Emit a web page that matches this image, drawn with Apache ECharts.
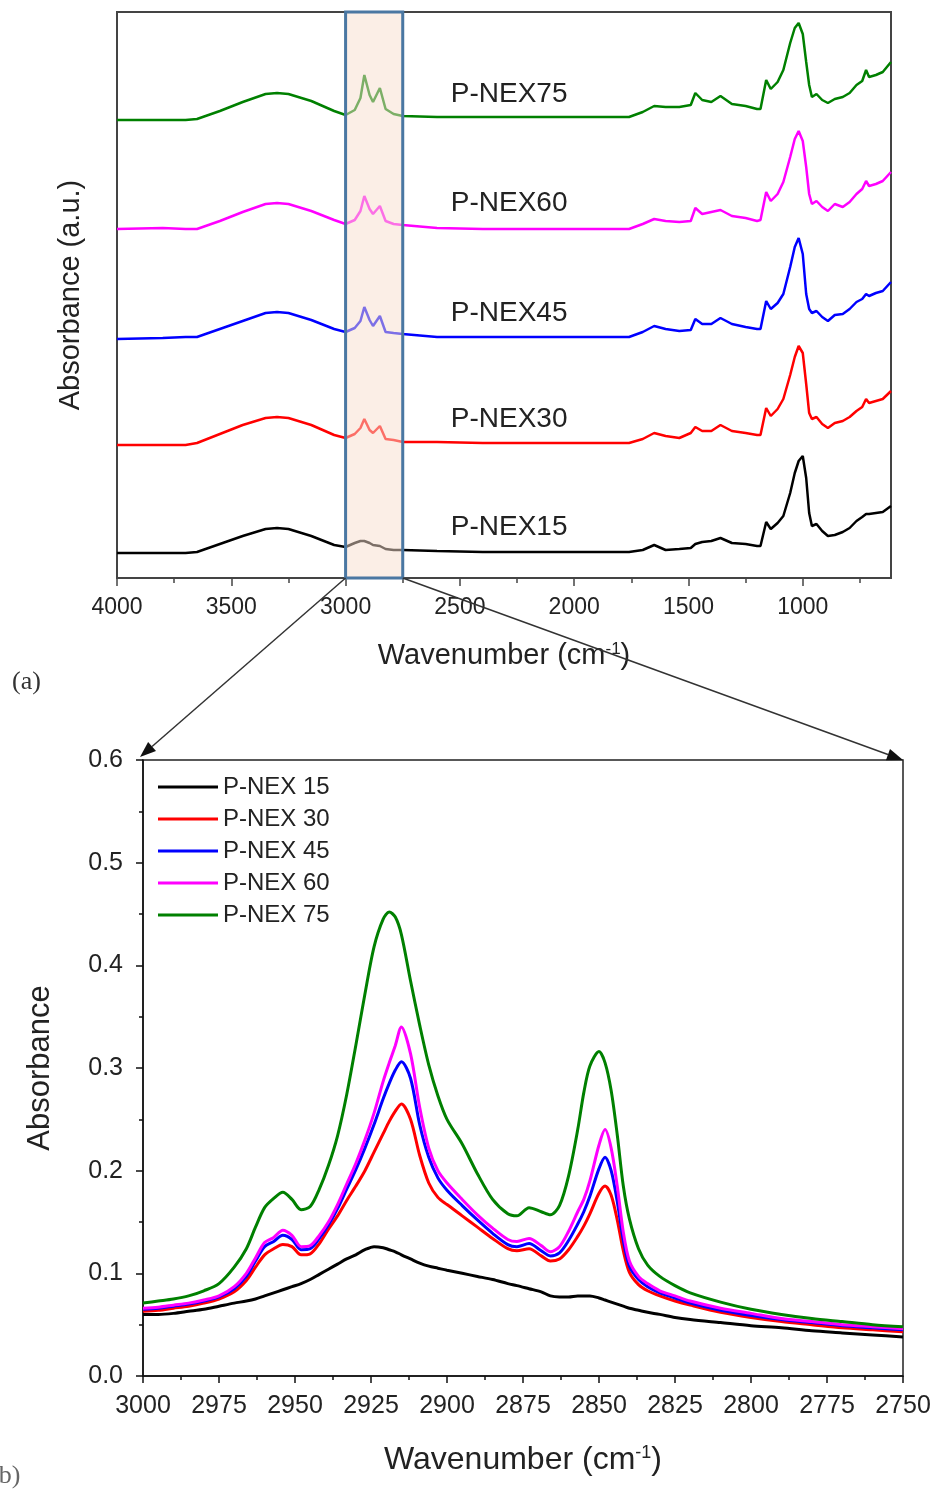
<!DOCTYPE html>
<html>
<head>
<meta charset="utf-8">
<script src="https://cdn.jsdelivr.net/npm/echarts@6.0.0/dist/echarts.min.js"></script>
<style>
html, body { margin: 0; padding: 0; background: #fff; }
#chart { width: 940px; height: 1497px; }
</style>
</head>
<body>
<div id="chart"></div>
<script>
// sample names / colours (same order for both panels)
var NAMES = ['P-NEX15', 'P-NEX30', 'P-NEX45', 'P-NEX60', 'P-NEX75'];
var LEGEND_NAMES = ['P-NEX 15', 'P-NEX 30', 'P-NEX 45', 'P-NEX 60', 'P-NEX 75'];
var COLORS = ['#000000', '#ff0000', '#0000ff', '#ff00ff', '#008000'];

// (a) full spectra, stacked with a vertical offset (a.u.)
var TOP_MAX = 566;
var TOP_OFFSET = [25, 133, 239, 349, 458];
var TOP_WN = [4000, 3800, 3700, 3650, 3550, 3450, 3350, 3300, 3250, 3150, 3050, 3000, 2960, 2935, 2918, 2895,
  2880, 2850, 2825, 2790, 2750, 2600, 2400, 2000, 1760, 1700, 1650, 1600, 1540, 1490, 1470, 1440, 1400, 1360,
  1310, 1250, 1200, 1185, 1160, 1140, 1110, 1085, 1055, 1035, 1018, 1000, 985, 972, 960, 940, 915, 890, 860,
  825, 795, 765, 740, 723, 710, 680, 650, 614];
var TOP_15 = [0,0,0,1,9,17,24,25,24,17,8,6,10,12,12,10,8,7,4,3,3,2,1,1,1,3,8,3,4,5,9,11,12,15,10,9,7,7,31,24,
  30,37,60,80,92,97,75,40,27,29,22,17,18,21,25,32,36,39,39,40,41,47];
var TOP_30 = [0,0,0,2,11,20,27,28,27,20,10,7,11,17,26,15,12,19,6,5,3,3,2,2,2,6,12,9,7,12,18,14,14,20,14,12,10,
  10,37,29,36,46,70,88,99,92,61,32,26,28,21,17,22,24,28,34,38,46,42,44,46,54];
var TOP_45 = [0,1,2,2,10,18,26,27,26,19,10,7,11,18,32,19,13,23,7,6,5,2,2,2,2,7,13,10,8,9,20,15,15,21,15,12,10,
  10,38,30,36,45,72,92,101,85,45,30,26,28,22,18,24,25,30,37,40,45,43,46,48,57];
var TOP_60 = [0,1,0,0,8,17,25,26,25,18,9,5,9,18,33,20,15,23,8,5,4,1,0,0,0,5,10,8,7,8,21,15,17,19,13,11,8,9,37,
  28,35,47,72,90,98,88,62,35,25,28,22,18,25,22,27,35,40,48,43,45,48,57];
var TOP_75 = [0,0,0,1,9,18,26,27,26,19,9,5,10,22,45,25,18,32,11,6,4,3,3,3,3,8,14,13,13,15,27,20,18,24,16,14,11,
  11,40,31,38,50,77,92,97,86,58,35,23,26,20,17,21,23,27,35,39,50,43,45,48,58];
var TOP_LABELS = [1000, 1500, 2000, 2500, 3000, 3500, 4000];
var TOP_MINOR = [750, 1250, 1750, 2250, 2750, 3250, 3750];
var ZOOM_RANGE = [2750, 3000];

// (b) C-H stretching region
var ZOOM_WN = [3000, 2995, 2990, 2985, 2980, 2975, 2970, 2966, 2963, 2960, 2957, 2954, 2951, 2948, 2945, 2942,
  2939, 2936, 2933, 2930, 2927, 2924, 2921, 2919, 2917, 2915, 2912, 2909, 2906, 2903, 2900, 2895, 2890, 2885,
  2880, 2877, 2873, 2869, 2866, 2863, 2860, 2857, 2855, 2853, 2850, 2848, 2846, 2844, 2842, 2840, 2837, 2834,
  2830, 2825, 2820, 2810, 2800, 2790, 2780, 2770, 2760, 2750];
var ZOOM_15 = [.060,.060,.061,.063,.065,.068,.071,.073,.075,.078, .081,.084,.087,.090,.094,.099,.104,.109,.114,.118,
  .123,.126,.125,.123,.121,.118,.114,.110,.107,.105, .103,.100,.097,.094,.090,.088,.085,.082,.078,.077,
  .077,.078,.078,.078,.076,.074,.072,.070,.068,.066, .064,.062,.060,.057,.055,.052,.049,.047,.044,.042, .040,.038];
var ZOOM_30 = [.063,.064,.066,.068,.071,.075,.082,.093,.106,.118, .124,.128,.126,.118,.119,.129,.143,.156,.171,.185,
  .200,.218,.236,.248,.258,.265,.250,.215,.188,.174, .167,.156,.145,.134,.124,.122,.124,.117,.112,.114,
  .123,.136,.146,.158,.178,.185,.176,.152,.122,.101, .089,.083,.078,.073,.069,.062,.057,.053,.050,.047, .045,.043];
var ZOOM_45 = [.065,.066,.068,.070,.073,.077,.085,.097,.112,.126, .131,.137,.133,.123,.124,.134,.147,.163,.182,.201,
  .222,.245,.270,.285,.298,.306,.290,.245,.213,.193, .181,.166,.152,.139,.128,.126,.129,.122,.117,.120,
  .132,.148,.160,.175,.202,.213,.200,.170,.132,.107, .094,.087,.081,.076,.071,.064,.059,.055,.052,.049, .047,.045];
var ZOOM_60 = [.066,.067,.069,.071,.074,.078,.087,.100,.115,.130, .135,.142,.137,.126,.127,.137,.150,.167,.187,.207,
  .230,.256,.287,.305,.322,.340,.314,.262,.222,.200, .188,.172,.157,.144,.133,.131,.134,.127,.121,.126,
  .141,.160,.172,.190,.225,.240,.222,.185,.140,.112, .097,.090,.083,.078,.073,.066,.061,.056,.053,.050, .048,.046];
var ZOOM_75 = [.071,.073,.075,.078,.083,.090,.106,.124,.145,.164, .173,.179,.172,.162,.165,.182,.205,.234,.274,.322,
  .372,.418,.445,.452,.447,.430,.385,.342,.303,.273, .250,.226,.197,.172,.158,.156,.164,.160,.157,.166,
  .195,.240,.276,.302,.316,.305,.278,.235,.185,.153, .124,.108,.097,.088,.081,.072,.065,.060,.056,.053, .050,.048];

var TOP_SPECTRA = [TOP_15, TOP_30, TOP_45, TOP_60, TOP_75];
var ZOOM_SPECTRA = [ZOOM_15, ZOOM_30, ZOOM_45, ZOOM_60, ZOOM_75];

var FONT = '"Liberation Sans", Arial, sans-serif';
var INK = '#222';
var chart = echarts.init(document.getElementById('chart'));

function pairs(xs, ys, off) {
  return xs.map(function (x, i) { return [x, ys[i] + (off || 0)]; });
}
function plain(v) { return String(v); }

var series = [];
// top panel curves + their name labels
TOP_SPECTRA.forEach(function (s, k) {
  series.push({
    name: NAMES[k], type: 'line', xAxisIndex: 0, yAxisIndex: 0,
    data: pairs(TOP_WN, s, TOP_OFFSET[k]),
    showSymbol: false, silent: true, animation: false,
    lineStyle: { color: COLORS[k], width: 2.5 }, itemStyle: { color: COLORS[k] },
    markPoint: {
      symbol: 'circle', symbolSize: 0, silent: true, animation: false,
      label: { show: true, position: 'right', distance: 0, formatter: NAMES[k],
               fontSize: 28, color: INK, fontFamily: FONT },
      data: [{ coord: [2540, TOP_OFFSET[k] + 26] }]
    }
  });
});
// highlighted window drawn over the curves
series.push({
  type: 'custom', xAxisIndex: 0, yAxisIndex: 0, z: 10, clip: false, silent: true, animation: false,
  data: [ZOOM_RANGE],
  renderItem: function (params, api) {
    var p1 = api.coord([api.value(1), TOP_MAX]);
    var p2 = api.coord([api.value(0), 0]);
    return {
      type: 'rect',
      shape: { x: p1[0], y: p1[1], width: p2[0] - p1[0], height: p2[1] - p1[1] },
      style: { fill: 'rgba(247,222,205,0.5)', stroke: '#4a77a2', lineWidth: 3 }
    };
  }
});
// bottom panel
ZOOM_SPECTRA.forEach(function (s, k) {
  series.push({
    name: LEGEND_NAMES[k], type: 'line', xAxisIndex: 2, yAxisIndex: 1,
    data: pairs(ZOOM_WN, s), smooth: 0.3,
    showSymbol: false, silent: true, animation: false,
    lineStyle: { color: COLORS[k], width: 3 }, itemStyle: { color: COLORS[k] }
  });
});

var option = {
  animation: false,
  textStyle: { fontFamily: FONT },
  grid: [
    { left: 117, top: 12, width: 774, height: 566, show: true, borderColor: '#444', borderWidth: 2 },
    { left: 143, top: 760, width: 760, height: 616, show: true, borderColor: '#222', borderWidth: 1.5 }
  ],
  xAxis: [
    {
      gridIndex: 0, type: 'value', position: 'bottom', inverse: true,
      min: TOP_WN[TOP_WN.length - 1], max: TOP_WN[0],
      axisLine: { lineStyle: { color: '#444', width: 2 } },
      axisTick: { customValues: TOP_LABELS, length: 8, lineStyle: { color: '#444', width: 1.5 } },
      axisLabel: { customValues: TOP_LABELS, fontSize: 23, color: INK, margin: 18, formatter: plain },
      splitLine: { show: false },
      name: 'Wavenumber (cm{s|-1})', nameLocation: 'middle', nameGap: 63,
      nameTextStyle: { fontSize: 29, color: INK, rich: { s: { fontSize: 17, verticalAlign: 'top', color: INK } } }
    },
    {
      gridIndex: 0, type: 'value', position: 'bottom', inverse: true,
      min: TOP_WN[TOP_WN.length - 1], max: TOP_WN[0],
      axisLine: { show: false },
      axisTick: { customValues: TOP_MINOR, length: 5, lineStyle: { color: '#444', width: 1.5 } },
      axisLabel: { show: false }, splitLine: { show: false }
    },
    {
      gridIndex: 1, type: 'value', position: 'bottom', inverse: true, min: 2750, max: 3000, interval: 25,
      axisLine: { lineStyle: { color: '#111', width: 1.5 } },
      axisTick: { length: 7, lineStyle: { color: '#111', width: 1.5 } },
      minorTick: { show: true, splitNumber: 2, length: 4, lineStyle: { color: '#111', width: 1.5 } },
      axisLabel: { fontSize: 25, color: INK, margin: 18, formatter: plain },
      splitLine: { show: false },
      name: 'Wavenumber (cm{s|-1})', nameLocation: 'middle', nameGap: 68,
      nameTextStyle: { fontSize: 32, color: INK, rich: { s: { fontSize: 18, verticalAlign: 'top', color: INK } } }
    }
  ],
  yAxis: [
    {
      gridIndex: 0, type: 'value', min: 0, max: TOP_MAX,
      axisLine: { show: false }, axisTick: { show: false }, axisLabel: { show: false },
      splitLine: { show: false },
      name: 'Absorbance (a.u.)', nameLocation: 'middle', nameGap: 32,
      nameTextStyle: { fontSize: 29, color: INK }
    },
    {
      gridIndex: 1, type: 'value', min: 0, max: 0.6, interval: 0.1,
      axisLine: { lineStyle: { color: '#111', width: 1.5 } },
      axisTick: { length: 7, lineStyle: { color: '#111', width: 1.5 } },
      minorTick: { show: true, splitNumber: 2, length: 4, lineStyle: { color: '#111', width: 1.5 } },
      axisLabel: { fontSize: 25, color: INK, margin: 20, formatter: function (v) { return v.toFixed(1); } },
      splitLine: { show: false },
      name: 'Absorbance', nameLocation: 'middle', nameGap: 87,
      nameTextStyle: { fontSize: 31, color: INK }
    }
  ],
  legend: {
    data: LEGEND_NAMES, orient: 'vertical', left: 153, top: 770,
    icon: 'rect', itemWidth: 60, itemHeight: 3, itemGap: 8, selectedMode: false,
    textStyle: { fontSize: 24, lineHeight: 24, color: INK, fontFamily: FONT }
  },
  series: series
};
chart.setOption(option);

// zoom arrows from the highlighted window to the lower panel, plus panel tags
function arrow(p, q) {
  var dx = q[0] - p[0], dy = q[1] - p[1];
  var len = Math.sqrt(dx * dx + dy * dy), ux = dx / len, uy = dy / len;
  var hl = 16, hw = 6;
  var bx = q[0] - ux * hl, by = q[1] - uy * hl;
  return { type: 'group', z: 100, silent: true, children: [
    { type: 'line', z: 100, shape: { x1: p[0], y1: p[1], x2: bx, y2: by }, style: { stroke: '#333', lineWidth: 1.5 } },
    { type: 'polygon', z: 100, shape: { points: [[q[0], q[1]], [bx - uy * hw, by + ux * hw], [bx + uy * hw, by - ux * hw]] },
      style: { fill: '#111' } }
  ] };
}
var botIdx = TOP_SPECTRA.length + 1;
var a1 = chart.convertToPixel({ seriesIndex: 0 }, [ZOOM_RANGE[1], 0]);
var a2 = chart.convertToPixel({ seriesIndex: 0 }, [ZOOM_RANGE[0], 0]);
var b1 = chart.convertToPixel({ seriesIndex: botIdx }, [ZOOM_RANGE[1], 0.6]);
var b2 = chart.convertToPixel({ seriesIndex: botIdx }, [ZOOM_RANGE[0], 0.6]);
chart.setOption({
  graphic: [
    arrow(a1, [b1[0] - 3, b1[1] - 3]),
    arrow(a2, b2),
    { type: 'text', left: 12, top: 669, z: 100,
      style: { text: '(a)', fontSize: 26, fontFamily: '"Liberation Serif", serif', fill: '#333' } },
    { type: 'text', left: -10, top: 1463, z: 100,
      style: { text: '(b)', fontSize: 26, fontFamily: '"Liberation Serif", serif', fill: '#666' } }
  ]
});
</script>
</body>
</html>
